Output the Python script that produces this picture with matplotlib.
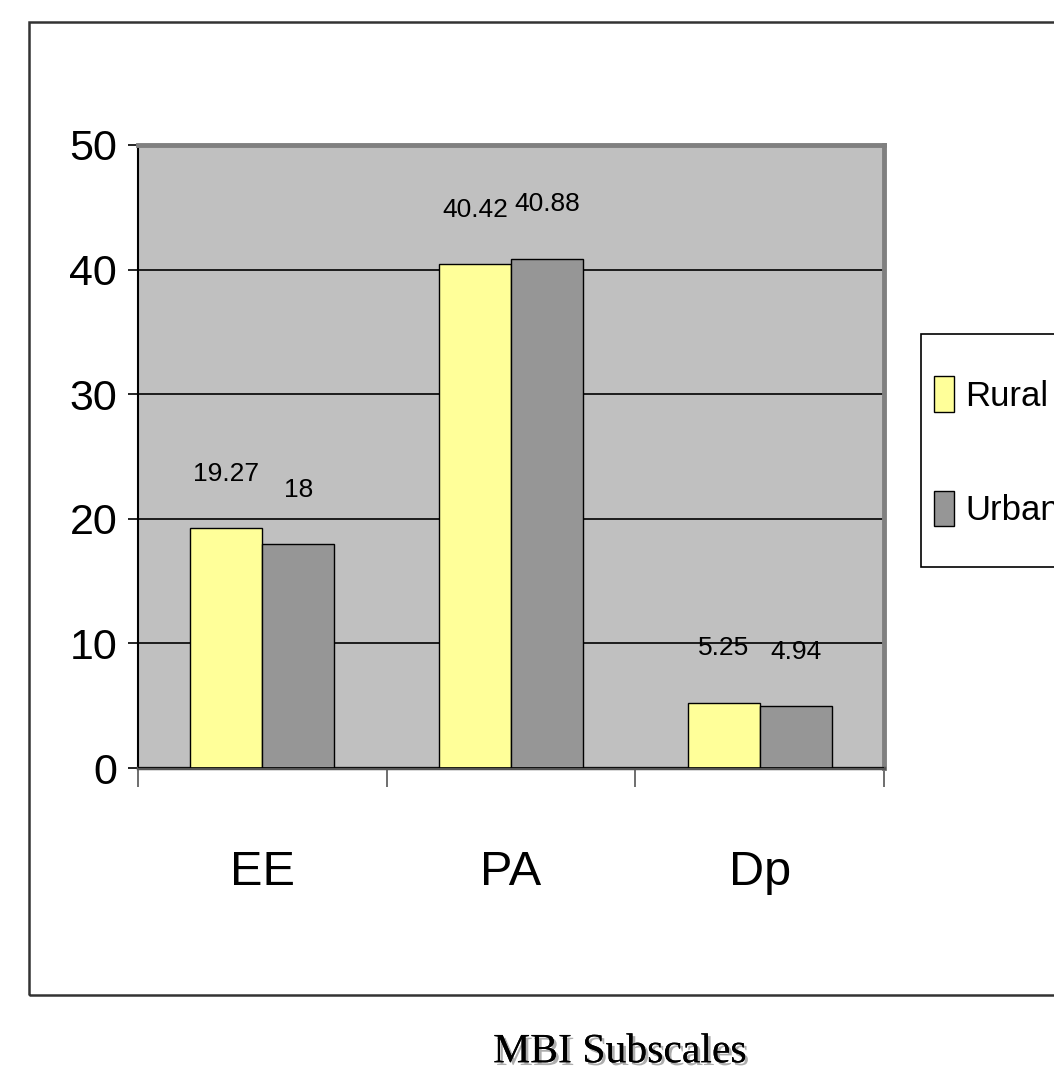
import matplotlib
matplotlib.use("Agg")
import matplotlib.pyplot as plt
import matplotlib.patheffects as pe
from matplotlib.patches import Rectangle
import numpy as np

# data
categories = ["EE", "PA", "Dp"]
rural = [19.27, 40.42, 5.25]
urban = [18, 40.88, 4.94]
rural_labels = ["19.27", "40.42", "5.25"]
urban_labels = ["18", "40.88", "4.94"]
y_ticks = [0, 10, 20, 30, 40, 50]

SANS = ["Liberation Sans", "DejaVu Sans"]
SERIF = ["Liberation Serif", "DejaVu Serif"]

W, H = 1054, 1073
fig = plt.figure(figsize=(W / 100, H / 100), dpi=100)
fig.patch.set_facecolor("white")

# outer chart border (runs off the right edge like the original)
fig.patches.append(Rectangle((29 / W, 1 - 995 / H), 1.2, (995 - 22) / H,
                             transform=fig.transFigure, fill=False,
                             edgecolor="#333333", linewidth=1.8))

ax = fig.add_axes([138 / W, 1 - 768 / H, 746 / W, 623 / H])
ax.set_facecolor("#C0C0C0")

x = np.arange(len(categories))
w = 0.29
b1 = ax.bar(x - w / 2, rural, w, color="#FFFF99", edgecolor="black", linewidth=1.0,
            label="Rural", zorder=3)
b2 = ax.bar(x + w / 2, urban, w, color="#969696", edgecolor="black", linewidth=1.0,
            label="Urban", zorder=3)

for bars, labels in ((b1, rural_labels), (b2, urban_labels)):
    for bar, lab in zip(bars, labels):
        ax.annotate(lab, (bar.get_x() + bar.get_width() / 2, bar.get_height()),
                    xytext=(0, 39), textcoords="offset points",
                    ha="center", va="center", fontsize=19, family=SANS)

ax.set_xlim(-0.5, 2.5)
ax.set_ylim(0, 50)
ax.set_yticks(y_ticks)
ax.set_yticklabels([str(t) for t in y_ticks], fontsize=31, family=SANS)
ax.yaxis.grid(True, color="black", linewidth=1.2, zorder=1)
ax.set_axisbelow(True)

# category boundaries as major ticks, names on minor ticks
ax.set_xticks([-0.5, 0.5, 1.5, 2.5])
ax.set_xticklabels([])
ax.set_xticks(x, minor=True)
ax.set_xticklabels(categories, minor=True, fontsize=35, family=SANS)
ax.tick_params(axis="x", which="major", direction="out", length=14, width=1.2,
               color="#555555")
ax.tick_params(axis="x", which="minor", length=0, pad=59)
ax.tick_params(axis="y", direction="out", length=7, width=1.2, color="black", pad=8)

for s in ("top", "right"):
    ax.spines[s].set_color("#808080")
    ax.spines[s].set_linewidth(3.5)
ax.spines["bottom"].set_color("#555555")
ax.spines["bottom"].set_linewidth(2.5)
ax.spines["left"].set_color("black")
ax.spines["left"].set_linewidth(1.5)
ax.axhline(0, color="black", linewidth=1.2, zorder=4)

# legend box drawn by hand, entries in a frameless legend inside it
fig.patches.append(Rectangle((921 / W, 1 - 567 / H), 0.2, (567 - 334) / H,
                             transform=fig.transFigure, facecolor="white",
                             edgecolor="black", linewidth=1.2, zorder=5))
leg = fig.legend(handles=[b1, b2], labels=["Rural", "Urban"], loc="upper left",
                 bbox_to_anchor=(934 / W, 1 - 376 / H),
                 prop={"family": SANS, "size": 25}, frameon=False,
                 borderpad=0, borderaxespad=0, labelspacing=2.25,
                 handlelength=0.58, handleheight=1.2, handletextpad=0.32)
leg.set_zorder(6)

fig.text(620 / W, 1 - 1052 / H, "MBI Subscales", ha="center", va="center",
         fontsize=30, family=SERIF,
         path_effects=[pe.withSimplePatchShadow(offset=(2, -2), shadow_rgbFace="#999999",
                                                alpha=0.8), pe.Normal()])

fig.savefig("out.png", dpi=100)
